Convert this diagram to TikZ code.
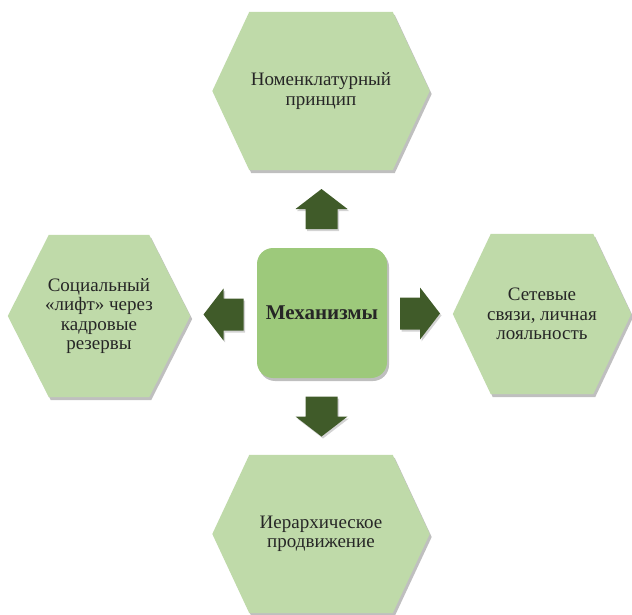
\documentclass[tikz,border=0pt]{standalone}
\usepackage{fontspec}
\setmainfont{Liberation Serif}
\usetikzlibrary{calc,shadows,backgrounds}
\definecolor{hexgreen}{HTML}{BFDAA9}
\definecolor{boxgreen}{HTML}{9DC97B}
\definecolor{arrowgreen}{HTML}{405B29}
\tikzset{
  hexbox/.style={align=center, inner sep=0pt, text=black!85,
    font=\fontsize{19}{19.5}\selectfont},
  hexshape/.style={fill=hexgreen,
    drop shadow={opacity=0.5, shadow xshift=2pt, shadow yshift=-3pt}},
  mechbox/.style={fill=boxgreen, rounded corners=16pt, minimum size=130pt,
    font=\fontsize{21}{22}\selectfont\bfseries, text=black!85,
    drop shadow={opacity=0.5, shadow xshift=2pt, shadow yshift=-3pt}},
  blockarr/.pic={
    \fill[arrowgreen, drop shadow={opacity=0.35, shadow xshift=1.5pt, shadow yshift=-2pt}]
      (-20,-16) -- (0,-16) -- (0,-26) -- (20,0) -- (0,26) -- (0,16) -- (-20,16) -- cycle;}
}
% hexagon behind a node, #2 = how far the corners are cut in
\newcommand{\hexa}[2]{%
  \fill[hexshape] (#1.west) -- ($(#1.north west)+(#2,0)$) -- ($(#1.north east)+(-#2,0)$)
    -- (#1.east) -- ($(#1.south east)+(-#2,0)$) -- ($(#1.south west)+(#2,0)$) -- cycle;}
\begin{document}
\begin{tikzpicture}[x=1pt,y=-1pt]
  \useasboundingbox (0,0) rectangle (632,615);
  % outer boxes
  \node[hexbox, minimum width=217pt, minimum height=158pt] (nomen) at (321,91) {Номенклатурный\\принцип};
  \node[hexbox, minimum width=182pt, minimum height=162pt] (social) at (99,316) {Социальный\\«лифт» через\\кадровые\\резервы};
  \node[hexbox, minimum width=178pt, minimum height=160pt] (network) at (542,314) {Сетевые\\связи, личная\\лояльность};
  \node[hexbox, minimum width=217pt, minimum height=158pt] (hier) at (321,534) {Иерархическое\\продвижение};
  \begin{scope}[on background layer]
    \hexa{nomen}{37}
    \hexa{social}{41}
    \hexa{network}{38}
    \hexa{hier}{37}
  \end{scope}
  % centre
  \node[mechbox] (mech) at (322,313) {Механизмы};
  % arrows
  \pic[rotate=90] at ($(mech.north)!0.5!(nomen.south)$) {blockarr};
  \pic[rotate=-90] at ($(mech.south)!0.5!(hier.north)$) {blockarr};
  \pic[rotate=180] at ($(mech.west)!0.5!(social.east)$) {blockarr};
  \pic at ($(mech.east)!0.5!(network.west)$) {blockarr};
\end{tikzpicture}
\end{document}
